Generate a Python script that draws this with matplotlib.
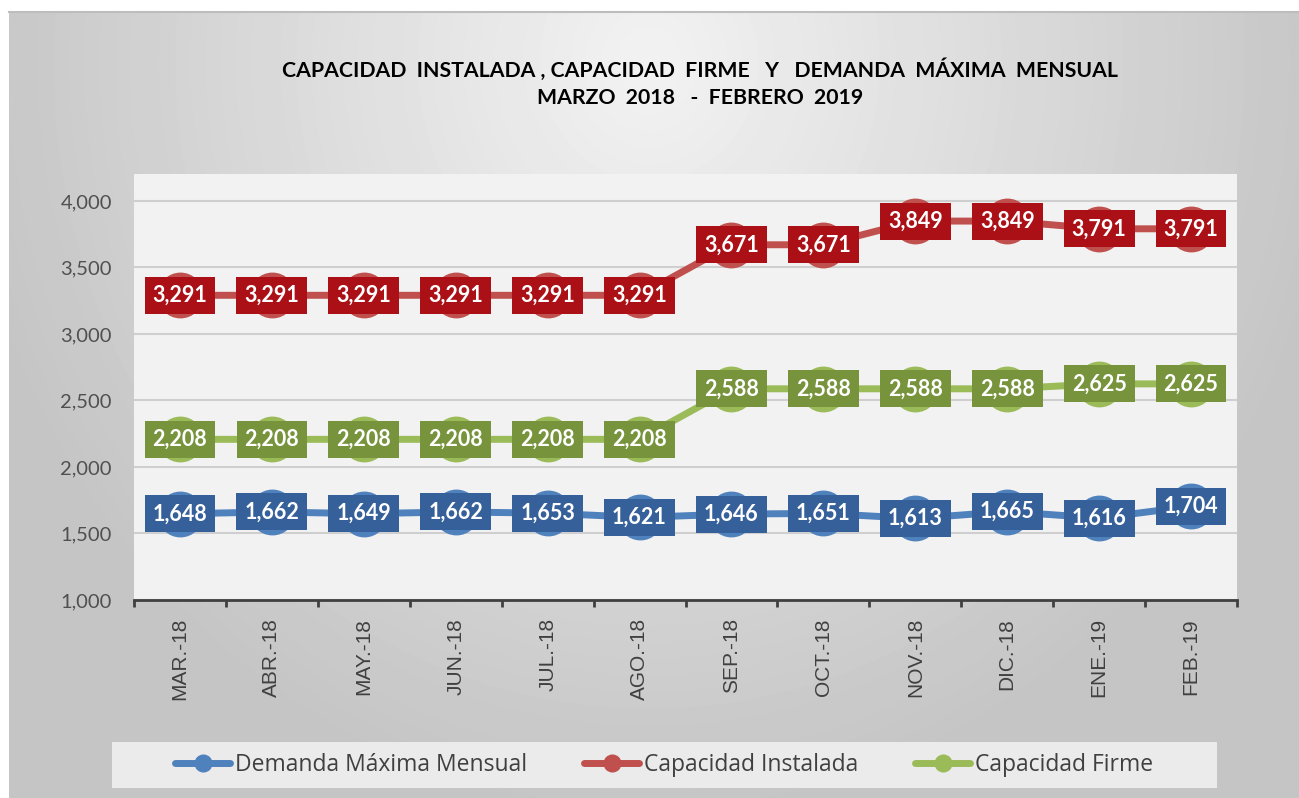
import numpy as np
import matplotlib.pyplot as plt
from matplotlib.patches import Rectangle
from matplotlib.lines import Line2D

# Datos
meses = ['MAR.-18', 'ABR.-18', 'MAY.-18', 'JUN.-18', 'JUL.-18', 'AGO.-18',
         'SEP.-18', 'OCT.-18', 'NOV.-18', 'DIC.-18', 'ENE.-19', 'FEB.-19']
demanda = [1648, 1662, 1649, 1662, 1653, 1621, 1646, 1651, 1613, 1665, 1616, 1704]
instalada = [3291, 3291, 3291, 3291, 3291, 3291, 3671, 3671, 3849, 3849, 3791, 3791]
firme = [2208, 2208, 2208, 2208, 2208, 2208, 2588, 2588, 2588, 2588, 2625, 2625]

series = [
    ('Demanda Máxima Mensual', demanda, '#4f81bd', '#36609a'),
    ('Capacidad Instalada', instalada, '#c0504d', '#aa1016'),
    ('Capacidad Firme', firme, '#9bbb59', '#77933c'),
]

W, H = 1299, 798
fig = plt.figure(figsize=(W / 100, H / 100), dpi=100)
fig.patch.set_facecolor('white')

# fondo con degradado (area del grafico)
bg = fig.add_axes([9 / W, 0, 1 - 9 / W, 1 - 12 / H], zorder=0)
yy, xx = np.mgrid[0:786, 0:1290]
d = np.sqrt(((xx - 640) / 700.0) ** 2 + ((yy - 50) / 760.0) ** 2)
shade = 0.95 - 0.18 * np.clip(d, 0, 1)
bg.imshow(shade, cmap='gray', vmin=0, vmax=1, aspect='auto', interpolation='bilinear')
bg.set_axis_off()
fig.add_artist(Line2D([9 / W, 1], [1 - 12 / H, 1 - 12 / H], color='#bdbdbd', lw=1.5))

# titulo
fig.text(700 / W, 1 - 70 / H, 'CAPACIDAD  INSTALADA , CAPACIDAD  FIRME   Y   DEMANDA  MÁXIMA  MENSUAL',
         ha='center', va='center', fontsize=15.3, fontweight='bold', family='Lato', color='black')
fig.text(700 / W, 1 - 98 / H, 'MARZO  2018   -  FEBRERO  2019',
         ha='center', va='center', fontsize=15.3, fontweight='bold', family='Lato', color='black')

ax = fig.add_axes([134 / W, 1 - 600 / H, (1237 - 134) / W, (600 - 174) / H], zorder=2)
ax.set_facecolor('#f2f2f2')
x = np.arange(len(meses))

for nombre, vals, col, lab in series:
    ax.plot(x, vals, color=col, lw=5, marker='o', ms=32, mec=col, mfc=col,
            solid_capstyle='round', label=nombre, zorder=3)

for nombre, vals, col, lab in series:
    for xi, v in zip(x, vals):
        ax.text(xi, v, f'{v:,}', ha='center', va='center', color='white',
                fontsize=15.5, fontweight='bold', family='Lato', zorder=5,
                bbox=dict(boxstyle='square,pad=0.37', fc=lab, ec='none'))

ax.set_xlim(-0.5, len(meses) - 0.5)
ax.set_ylim(1000, 4203)
ax.set_yticks([1000, 1500, 2000, 2500, 3000, 3500, 4000])
ax.set_yticklabels([f'{t:,}' for t in [1000, 1500, 2000, 2500, 3000, 3500, 4000]],
                   family='Lato', fontsize=14.5, color='#505050')
ax.grid(axis='y', color='#cfcfcf', lw=1.5, zorder=1)
ax.set_axisbelow(True)

ax.set_xticks(x)
ax.set_xticklabels(meses, rotation=90, family='Liberation Sans', fontsize=15, color='#404040')
ax.set_xticks(np.arange(-0.5, len(meses)), minor=True)
ax.tick_params(axis='x', which='major', length=0, pad=13)
ax.tick_params(axis='x', which='minor', length=5, width=2, color='#404040', direction='out')
ax.tick_params(axis='y', length=0, pad=16)

for s in ['top', 'right', 'left']:
    ax.spines[s].set_visible(False)
ax.spines['bottom'].set_color('#404040')
ax.spines['bottom'].set_linewidth(2)

# leyenda
fig.add_artist(Rectangle((112 / W, 1 - 788 / H), (1217 - 112) / W, 46 / H,
                         transform=fig.transFigure, fc='#ebebeb', ec='none', zorder=1))
handles = [Line2D([], [], color=c, lw=5, marker='o', ms=12, solid_capstyle='round')
           for _, _, c, _ in series]
leg = fig.legend(handles, [s[0] for s in series], loc='center', ncol=3,
                 bbox_to_anchor=(664 / W, 1 - 765 / H), frameon=False,
                 prop={'family': 'Open Sans', 'size': 16.5}, handlelength=2.4,
                 handletextpad=0.2, columnspacing=2.5)
for t in leg.get_texts():
    t.set_color('#404040')
leg.set_zorder(3)

fig.savefig('out.png', dpi=100)
